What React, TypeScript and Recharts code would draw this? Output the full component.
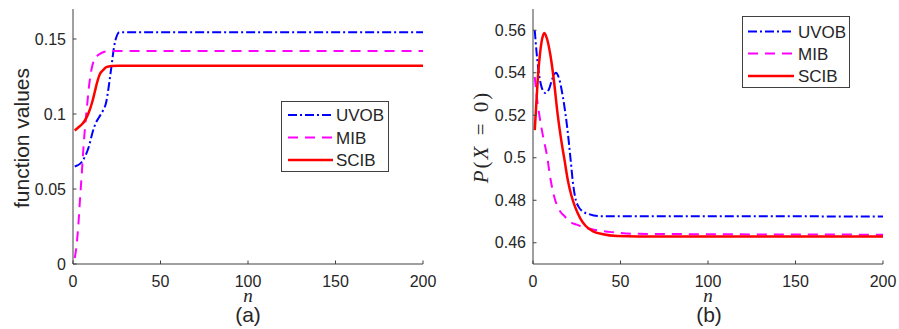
import React from "react"
import { LineChart, Line, XAxis, YAxis, Legend } from "recharts"

// ---- panel (a): function values vs n ----
const uvobNa = [1, 2, 3, 5, 7, 9, 11, 13, 15, 17, 19, 20.5, 22, 23.5, 25, 26.5, 28, 200]
const uvobVa = [0.065, 0.0655, 0.066, 0.068, 0.072, 0.078, 0.087, 0.094, 0.098, 0.102, 0.108, 0.119, 0.132, 0.145, 0.152, 0.1545, 0.1545, 0.1545]

const mibNa = [1, 2, 3, 4, 5, 6, 7, 8, 9, 10, 11, 12, 14, 16, 18, 22, 200]
const mibVa = [0.004, 0.012, 0.025, 0.043, 0.06, 0.078, 0.093, 0.105, 0.117, 0.126, 0.132, 0.136, 0.139, 0.1405, 0.1415, 0.142, 0.142]

const scibNa = [1, 3, 5, 7, 9, 11, 12.5, 14, 15.5, 17, 19, 22, 26, 200]
const scibVa = [0.089, 0.091, 0.093, 0.096, 0.101, 0.108, 0.115, 0.122, 0.127, 0.129, 0.1312, 0.132, 0.1322, 0.1322]

// ---- panel (b): P(X = 0) vs n ----
const uvobNb = [1, 2, 3, 5, 7, 9, 11, 13, 15, 17, 18.5, 20, 21.5, 23, 24.5, 26, 28, 32, 38, 200]
const uvobVb = [0.56, 0.55, 0.542, 0.533, 0.5305, 0.532, 0.537, 0.54, 0.537, 0.529, 0.521, 0.511, 0.499, 0.487, 0.48, 0.477, 0.475, 0.4735, 0.4725, 0.4724]

const mibNb = [1, 2, 4, 6, 8, 10, 12, 15, 18, 21, 25, 30, 36, 45, 60, 200]
const mibVb = [0.538, 0.53, 0.518, 0.509, 0.501, 0.49, 0.482, 0.4755, 0.4725, 0.47, 0.4685, 0.467, 0.466, 0.465, 0.4642, 0.4638]

const scibNb = [1, 2, 3, 4, 5, 6.5, 8, 10, 12, 14, 16, 18, 20, 22, 24, 27, 30, 34, 40, 48, 60, 200]
const scibVb = [0.513, 0.527, 0.54, 0.549, 0.555, 0.5587, 0.556, 0.548, 0.536, 0.521, 0.509, 0.499, 0.489, 0.482, 0.477, 0.4715, 0.468, 0.4655, 0.464, 0.4632, 0.463, 0.463]

const xTicks = [0, 50, 100, 150, 200]
const yTicksA = [0, 0.05, 0.1, 0.15]
const yTicksB = [0.46, 0.48, 0.5, 0.52, 0.54, 0.56]

const seriesNames = ["UVOB", "MIB", "SCIB"]
const seriesStyle = {
  UVOB: { color: "#0000ff", dash: "9 3 2 3", width: 2 },
  MIB: { color: "#ff00ff", dash: "10 7", width: 2 },
  SCIB: { color: "#ff0000", dash: undefined, width: 2.5 },
}

const toPoints = (ns: number[], vs: number[]) => ns.map((n, i) => ({ n, v: vs[i] }))

const AXIS = "#404040"
const TEXT = "#262626"
const SANS = "'Liberation Sans', Arial, sans-serif"
const SERIF = "'Liberation Serif', 'Times New Roman', serif"
const TICK_LEN = 3.5
const TICK_FONT = 16
const X_MARGIN = 12
const Y_MARGIN = 7

const BottomTick = (props: any) => {
  const { x, y, payload } = props
  const axisY = y - X_MARGIN
  return (
    <g>
      <line x1={x} x2={x} y1={axisY} y2={axisY - TICK_LEN} stroke={AXIS} />
      <text x={x} y={y} dy="0.71em" textAnchor="middle" fontSize={TICK_FONT} fontFamily={SANS} fill={TEXT}>
        {payload.value}
      </text>
    </g>
  )
}

const LeftTick = (props: any) => {
  const { x, y, payload } = props
  const axisX = x + Y_MARGIN
  return (
    <g>
      <line x1={axisX} x2={axisX + TICK_LEN} y1={y} y2={y} stroke={AXIS} />
      <text x={x} y={y} dy="0.355em" textAnchor="end" fontSize={TICK_FONT} fontFamily={SANS} fill={TEXT}>
        {String(payload.value)}
      </text>
    </g>
  )
}

const LegendBox = ({ box }: { box: { rows: number[]; x0: number; x1: number; tx: number } }) => (
  <div
    style={{
      position: "relative",
      width: "100%",
      height: "100%",
      boxSizing: "border-box",
      border: `1px solid ${AXIS}`,
      background: "#fff",
    }}
  >
    <svg width="100%" height="100%" style={{ position: "absolute", left: 0, top: 0 }}>
      {seriesNames.map((name, i) => {
        const s = seriesStyle[name]
        return (
          <g key={name}>
            <line x1={box.x0} x2={box.x1} y1={box.rows[i]} y2={box.rows[i]} stroke={s.color} strokeWidth={s.width} strokeDasharray={s.dash} />
            <text x={box.tx} y={box.rows[i]} dy="0.355em" fontSize={17} fontFamily={SANS} fill={TEXT}>
              {name}
            </text>
          </g>
        )
      })}
    </svg>
  </div>
)

type PanelProps = {
  left: number
  yWidth: number
  rightMargin: number
  yDomain: number[]
  yTicks: number[]
  series: { name: string; data: { n: number; v: number }[] }[]
  legend: { left: number; top: number; width: number; height: number; rows: number[]; x0: number; x1: number; tx: number }
}

const Panel = ({ left, yWidth, rightMargin, yDomain, yTicks, series, legend }: PanelProps) => (
  <div style={{ position: "absolute", left, top: 0 }}>
    <LineChart width={450} height={329} margin={{ top: 9, right: rightMargin, left: 0, bottom: 35 }}>
      <XAxis
        dataKey="n"
        type="number"
        domain={[0, 200]}
        ticks={xTicks}
        interval={0}
        height={30}
        stroke={AXIS}
        tickLine={false}
        tickSize={0}
        tickMargin={X_MARGIN}
        tick={<BottomTick />}
        allowDataOverflow
      />
      <XAxis
        xAxisId="top"
        orientation="top"
        mirror
        type="number"
        domain={[0, 200]}
        ticks={xTicks}
        interval={0}
        height={0}
        stroke={AXIS}
        tickSize={TICK_LEN}
        tickFormatter={() => ""}
      />
      <YAxis
        type="number"
        domain={yDomain}
        ticks={yTicks}
        interval={0}
        width={yWidth}
        stroke={AXIS}
        tickLine={false}
        tickSize={0}
        tickMargin={Y_MARGIN}
        tick={<LeftTick />}
        allowDataOverflow
      />
      <YAxis
        yAxisId="right"
        orientation="right"
        mirror
        type="number"
        domain={yDomain}
        ticks={yTicks}
        interval={0}
        width={0}
        stroke={AXIS}
        tickSize={TICK_LEN}
        tickFormatter={() => ""}
      />
      <Legend
        layout="horizontal"
        verticalAlign="middle"
        align="center"
        wrapperStyle={{ left: legend.left, top: legend.top, width: legend.width, height: legend.height }}
        content={() => <LegendBox box={legend} />}
      />
      {series.map((s) => {
        const st = seriesStyle[s.name]
        return (
          <Line
            key={s.name}
            name={s.name}
            data={s.data}
            dataKey="v"
            type="monotone"
            stroke={st.color}
            strokeWidth={st.width}
            strokeDasharray={st.dash}
            dot={false}
            activeDot={false}
            isAnimationActive={false}
          />
        )
      })}
    </LineChart>
  </div>
)

const Label = ({ x, y, rotate, style, children }: any) => (
  <div
    style={{
      position: "absolute",
      left: x,
      top: y,
      transform: `translate(-50%, -50%)${rotate ? " rotate(-90deg)" : ""}`,
      whiteSpace: "nowrap",
      color: TEXT,
      lineHeight: 1,
      ...style,
    }}
  >
    {children}
  </div>
)

export default function App() {
  const seriesA = [
    { name: "UVOB", data: toPoints(uvobNa, uvobVa) },
    { name: "MIB", data: toPoints(mibNa, mibVa) },
    { name: "SCIB", data: toPoints(scibNa, scibVa) },
  ]
  const seriesB = [
    { name: "UVOB", data: toPoints(uvobNb, uvobVb) },
    { name: "MIB", data: toPoints(mibNb, mibVb) },
    { name: "SCIB", data: toPoints(scibNb, scibVb) },
  ]

  return (
    <div style={{ position: "absolute", left: 0, top: 0, width: 899, height: 329, background: "#fff", overflow: "hidden" }}>
      <Panel
        left={0}
        yWidth={73}
        rightMargin={27}
        yDomain={[0, 0.17]}
        yTicks={yTicksA}
        series={seriesA}
        legend={{ left: 281, top: 101, width: 108, height: 71, rows: [13, 35.5, 58], x0: 6, x1: 51, tx: 54 }}
      />
      <Panel
        left={450}
        yWidth={83}
        rightMargin={17}
        yDomain={[0.45, 0.57]}
        yTicks={yTicksB}
        series={seriesB}
        legend={{ left: 292, top: 16, width: 108, height: 72, rows: [14.5, 36.5, 59], x0: 5, x1: 51, tx: 55 }}
      />

      <Label x={21} y={138} rotate style={{ fontFamily: SANS, fontSize: 21 }}>function values</Label>
      <Label x={481} y={137} rotate style={{ fontFamily: SERIF, fontSize: 21, letterSpacing: 2 }}>
        <i>P</i>(<i>X</i>&nbsp;<span style={{ margin: "0 2px" }}>=</span>&nbsp;0)
      </Label>

      <Label x={248} y={296} style={{ fontFamily: SERIF, fontSize: 19, fontStyle: "italic", lineHeight: 0.7 }}>n</Label>
      <Label x={708} y={296} style={{ fontFamily: SERIF, fontSize: 19, fontStyle: "italic", lineHeight: 0.7 }}>n</Label>
      <Label x={248} y={315} style={{ fontFamily: SANS, fontSize: 21, lineHeight: 0.85 }}>(a)</Label>
      <Label x={709} y={315} style={{ fontFamily: SANS, fontSize: 21, lineHeight: 0.85 }}>(b)</Label>
    </div>
  )
}
